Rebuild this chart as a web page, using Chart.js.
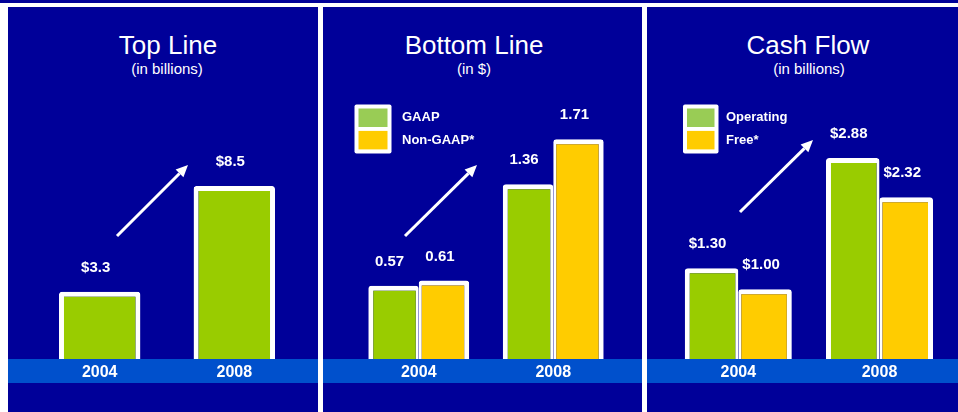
<!DOCTYPE html>
<html>
<head>
<meta charset="utf-8">
<script src="https://cdn.jsdelivr.net/npm/chart.js@4.4.1/dist/chart.umd.min.js"></script>
<style>
  html, body { margin: 0; padding: 0; }
  body { width: 958px; height: 412px; background: #000099; position: relative; overflow: hidden;
         font-family: "Liberation Sans", Arial, sans-serif; }
  .rule { position: absolute; background: #fff; }
  .band { position: absolute; left: 8px; top: 359px; width: 950px; height: 24px; background: #0050cc; }
  .panel { position: absolute; top: 0; height: 412px; }
  .panel canvas { position: absolute; left: 0; top: 0; }
  .title { position: absolute; width: 240px; top: 29px; text-align: center; color: #fff;
           font-size: 26px; line-height: 32px; white-space: nowrap; }
  .sub { position: absolute; width: 240px; top: 60px; text-align: center; color: #fff;
         font-size: 15px; line-height: 18px; white-space: nowrap; }
</style>
</head>
<body>
<div class="band"></div>
<div class="rule" style="left:0;top:3px;width:958px;height:4px"></div>
<div class="rule" style="left:0;top:3px;width:8px;height:409px"></div>
<div class="rule" style="left:318px;top:3px;width:5px;height:409px"></div>
<div class="rule" style="left:642px;top:3px;width:5px;height:409px"></div>

<div class="panel" style="left:8px;width:310px">
  <div class="title" style="left:40px">Top Line</div>
  <div class="sub" style="left:39px">(in billions)</div>
  <canvas id="topLine" width="310" height="412"></canvas>
</div>
<div class="panel" style="left:323px;width:319px">
  <div class="title" style="left:31px">Bottom Line</div>
  <div class="sub" style="left:31px">(in $)</div>
  <canvas id="bottomLine" width="319" height="412"></canvas>
</div>
<div class="panel" style="left:647px;width:311px">
  <div class="title" style="left:41px">Cash Flow</div>
  <div class="sub" style="left:42px">(in billions)</div>
  <canvas id="cashFlow" width="311" height="412"></canvas>
</div>

<script>
// data
const years = ['2004', '2008'];

const topLine = [3.3, 8.5];

const bottomSeries = ['GAAP', 'Non-GAAP*'];
const bottomGaap = [0.57, 1.36];
const bottomNonGaap = [0.61, 1.71];

const cashSeries = ['Operating', 'Free*'];
const cashOperating = [1.30, 2.88];
const cashFree = [1.00, 2.32];

const GREEN = '#99cc00';
const YELLOW = '#ffcc00';
const LEGEND_GREEN = '#99cc55';
const FONT = '"Liberation Sans", Arial, sans-serif';

Chart.defaults.font.family = FONT;

// extra drawing per canvas: value labels, arrow, legend box
const extras = {
  topLine: {
    prefix: '$', decimals: 1,
    arrow: [109, 236, 180, 165]
  },
  bottomLine: {
    prefix: '', decimals: 2,
    arrow: [82, 236, 154, 165],
    legend: { x: 31.5, y: 104.5, w: 37, textX: 79, colors: [LEGEND_GREEN, YELLOW] }
  },
  cashFlow: {
    prefix: '$', decimals: 2,
    arrow: [93, 212, 166, 140],
    legend: { x: 36, y: 104.5, w: 35.5, textX: 79, colors: [LEGEND_GREEN, YELLOW] }
  }
};

function drawArrow(ctx, x1, y1, x2, y2) {
  const ang = Math.atan2(y2 - y1, x2 - x1);
  const L = 12, W = 5.5;
  const bx = x2 - L * Math.cos(ang), by = y2 - L * Math.sin(ang);
  ctx.strokeStyle = '#fff';
  ctx.lineWidth = 3;
  ctx.beginPath();
  ctx.moveTo(x1, y1);
  ctx.lineTo(bx, by);
  ctx.stroke();
  ctx.fillStyle = '#fff';
  ctx.beginPath();
  ctx.moveTo(x2, y2);
  ctx.lineTo(bx - W * Math.sin(ang), by + W * Math.cos(ang));
  ctx.lineTo(bx + W * Math.sin(ang), by - W * Math.cos(ang));
  ctx.closePath();
  ctx.fill();
}

const decor = {
  id: 'decor',
  afterDatasetsDraw(chart) {
    const ex = extras[chart.canvas.id];
    const ctx = chart.ctx;
    ctx.save();

    ctx.fillStyle = '#fff';
    ctx.font = 'bold 15px ' + FONT;
    ctx.textAlign = 'center';
    ctx.textBaseline = 'middle';
    chart.data.datasets.forEach((ds, i) => {
      chart.getDatasetMeta(i).data.forEach((bar, j) => {
        ctx.fillText(ex.prefix + ds.data[j].toFixed(ex.decimals), bar.x - 4, bar.y - 24);
      });
    });

    drawArrow(ctx, ...ex.arrow);

    const lg = ex.legend;
    if (lg) {
      ctx.fillStyle = '#fff';
      ctx.beginPath();
      ctx.roundRect(lg.x, lg.y, lg.w, 49, 2);
      ctx.fill();
      ctx.font = 'bold 13px ' + FONT;
      ctx.textAlign = 'left';
      chart.data.datasets.forEach((ds, k) => {
        ctx.fillStyle = lg.colors[k];
        ctx.fillRect(lg.x + 4, lg.y + 4 + k * 22.4, lg.w - 8, 18.5);
        ctx.fillStyle = '#fff';
        ctx.fillText(ds.label, lg.textX, lg.y + 13 + k * 23);
      });
    }
    ctx.restore();
  }
};

function makeChart(id, datasets, yMax, padLeft, padRight, catPct) {
  return new Chart(document.getElementById(id), {
    type: 'bar',
    data: {
      labels: years,
      datasets: datasets.map(d => Object.assign({
        borderColor: '#fff',
        borderSkipped: 'start',
        borderRadius: 3,
        categoryPercentage: catPct,
        barPercentage: 1
      }, d))
    },
    options: {
      responsive: false,
      animation: false,
      events: [],
      layout: { padding: { top: 80, bottom: 29, left: padLeft, right: padRight } },
      plugins: { legend: { display: false }, tooltip: { enabled: false } },
      scales: {
        x: {
          grid: { display: false, drawTicks: false },
          border: { display: false },
          ticks: { color: '#fff', font: { size: 16, weight: 'bold' }, padding: 4 },
          afterFit(scale) { scale.height = 24; }
        },
        y: { display: false, min: 0, max: yMax }
      }
    },
    plugins: [decor]
  });
}

makeChart('topLine', [
  { label: 'Top Line', data: topLine, backgroundColor: GREEN,
    borderWidth: { top: 5, left: 5, right: 5, bottom: 0 } }
], 13.7, 24.4, 16.4, 0.605);

makeChart('bottomLine', [
  { label: bottomSeries[0], data: bottomGaap, backgroundColor: GREEN,
    borderWidth: { top: 5, left: 5, right: 3, bottom: 0 } },
  { label: bottomSeries[1], data: bottomNonGaap, backgroundColor: YELLOW,
    borderWidth: { top: 5, left: 3, right: 5, bottom: 0 } }
], 2.17, 28.5, 21.5, 0.75);

makeChart('cashFlow', [
  { label: cashSeries[0], data: cashOperating, backgroundColor: GREEN,
    borderWidth: { top: 5, left: 5, right: 3, bottom: 0 } },
  { label: cashSeries[1], data: cashFree, backgroundColor: YELLOW,
    borderWidth: { top: 5, left: 3, right: 5, bottom: 0 } }
], 4.0, 20.7, 7.9, 0.758);
</script>
</body>
</html>
